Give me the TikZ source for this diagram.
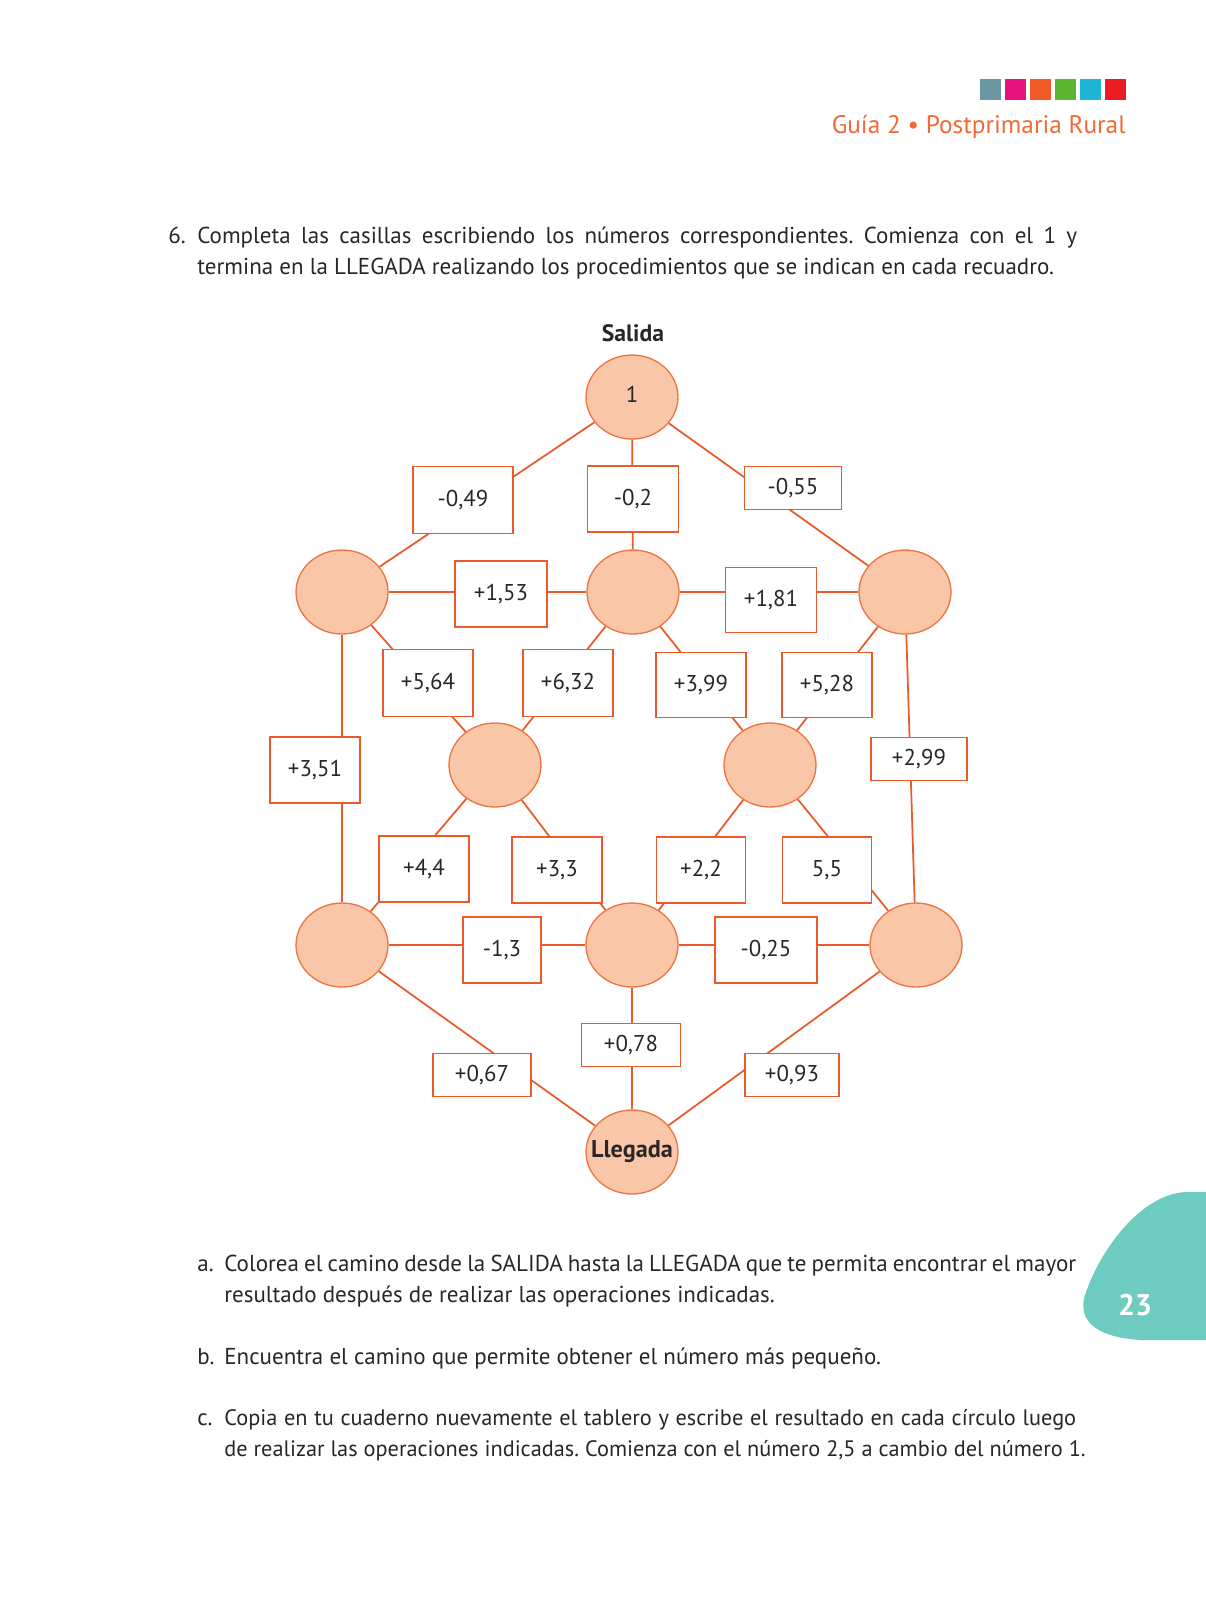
\documentclass[tikz,border=0pt]{standalone}
\usepackage{fontspec}
\setmainfont{PT Sans}
\usetikzlibrary{shapes.geometric}
\definecolor{naranja}{HTML}{EA5A2A}
\definecolor{borde}{HTML}{EE7442}
\definecolor{durazno}{HTML}{F9C6A7}
\definecolor{tinta}{HTML}{2A2627}
\definecolor{titulo}{HTML}{F06A35}
\definecolor{turquesa}{HTML}{6ECBC0}
\definecolor{cuadro1}{HTML}{6B97A5}
\definecolor{cuadro2}{HTML}{E5137B}
\definecolor{cuadro3}{HTML}{F15A29}
\definecolor{cuadro4}{HTML}{5DB531}
\definecolor{cuadro5}{HTML}{1FB5D5}
\definecolor{cuadro6}{HTML}{EC1C24}
\frenchspacing
\begin{document}
\begin{tikzpicture}[x=0.02cm,y=-0.02cm,
  circulo/.style={ellipse,draw=borde,fill=durazno,line width=0.75pt,minimum width=1.84cm,minimum height=1.68cm,inner sep=0pt,text=tinta,font=\fontsize{13}{15}\selectfont},
  casilla/.style={rectangle,draw=naranja,fill=white,line width=1.1pt,minimum height=1.32cm,inner sep=0pt,text=tinta,font=\fontsize{13}{15}\selectfont},
  baja/.style={minimum height=0.86cm},
  camino/.style={draw=naranja,line width=1pt},
  texto/.style={anchor=base west,inner sep=0pt,text=tinta,font=\fontsize{13.1}{15}\selectfont},
  textoc/.style={texto,font=\fontsize{12.7}{15}\selectfont}]
  \useasboundingbox (0,0) rectangle (1206,1600);
  \fill[white] (0,0) rectangle (1206,1600);
  \fill[cuadro1] (980,79) rectangle (1001,100);
  \fill[cuadro2] (1005,79) rectangle (1026,100);
  \fill[cuadro3] (1030,79) rectangle (1051,100);
  \fill[cuadro4] (1055,79) rectangle (1076,100);
  \fill[cuadro5] (1080,79) rectangle (1101,100);
  \fill[cuadro6] (1105,79) rectangle (1126,100);
  \node[anchor=base east,inner sep=0pt,text=titulo,font=\fontsize{14.4}{17}\selectfont] (guia) at (1126,133) {Guía 2 • Postprimaria Rural};
  \node[texto] (n6) at (168,243) {6.};
  \node[texto] (p1) at (197,243) {\makebox[17.6cm][s]{Completa las casillas escribiendo los números correspondientes. Comienza con el 1 y}};
  \node[texto] (p2) at (197,274) {termina en la LLEGADA realizando los procedimientos que se indican en cada recuadro.};
  \node[text=tinta,font=\bfseries\fontsize{13.5}{16}\selectfont] (salida) at (633,333) {Salida};
  \node[circulo] (c1) at (632,397) {\raisebox{3pt}{1}};
  \node[circulo] (cl) at (342,592) {};
  \node[circulo] (cm) at (633,592) {};
  \node[circulo] (cr) at (905,592) {};
  \node[circulo] (il) at (495,765) {};
  \node[circulo] (ir) at (770,765) {};
  \node[circulo] (dl) at (342,945) {};
  \node[circulo] (dm) at (632,945) {};
  \node[circulo] (dr) at (916,945) {};
  \node[circulo,font=\bfseries\fontsize{13.8}{16}\selectfont] (llegada) at (632,1152) {\makebox[0pt]{Llegada}};
  \foreach \a/\b in {c1/cl,c1/cm,c1/cr,cl/cm,cm/cr,cl/dl,cl/il,cm/il,cm/ir,cr/ir,cr/dr,il/dl,il/dm,ir/dm,ir/dr,dl/dm,dm/dr,dl/llegada,dm/llegada,dr/llegada}
    \draw[camino] (\a) -- (\b);
  \node[casilla,minimum width=2cm,minimum height=1.34cm] (r049) at (463,500) {-0,49};
  \node[casilla,minimum width=1.82cm] (r02) at (633,499) {-0,2};
  \node[casilla,baja,minimum width=1.94cm] (r055) at (793,488) {-0,55};
  \node[casilla,minimum width=1.84cm] (r153) at (501,594) {+1,53};
  \node[casilla,minimum width=1.82cm,minimum height=1.3cm] (r181) at (771,600) {+1,81};
  \node[casilla,minimum width=1.8cm,minimum height=1.34cm] (r564) at (428,683) {+5,64};
  \node[casilla,minimum width=1.8cm,minimum height=1.34cm] (r632) at (568,683) {+6,32};
  \node[casilla,minimum width=1.8cm,minimum height=1.3cm] (r399) at (701,685) {+3,99};
  \node[casilla,minimum width=1.8cm,minimum height=1.3cm] (r528) at (827,685) {+5,28};
  \node[casilla,minimum width=1.8cm] (r351) at (315,770) {+3,51};
  \node[casilla,baja,minimum width=1.92cm] (r299) at (919,759) {+2,99};
  \node[casilla,minimum width=1.8cm] (r44) at (424,869) {+4,4};
  \node[casilla,minimum width=1.8cm] (r33) at (557,870) {+3,3};
  \node[casilla,minimum width=1.78cm] (r22) at (701,870) {+2,2};
  \node[casilla,minimum width=1.78cm] (r55) at (827,870) {5,5};
  \node[casilla,minimum width=1.56cm] (r13) at (502,950) {-1,3};
  \node[casilla,minimum width=2.04cm] (r025) at (766,950) {-0,25};
  \node[casilla,baja,minimum width=1.98cm] (r078) at (631,1045) {+0,78};
  \node[casilla,baja,minimum width=1.96cm] (r067) at (482,1075) {+0,67};
  \node[casilla,baja,minimum width=1.88cm] (r093) at (792,1075) {+0,93};
  \node[texto] (na) at (197,1271) {a.};
  \node[texto] (a1) at (224,1271) {\makebox[17.04cm][s]{Colorea el camino desde la SALIDA hasta la LLEGADA que te permita encontrar el mayor}};
  \node[texto] (a2) at (224,1302) {resultado después de realizar las operaciones indicadas.};
  \node[texto] (nb) at (197,1364) {b.};
  \node[texto] (b1) at (224,1364) {Encuentra el camino que permite obtener el número más pequeño.};
  \node[texto] (nc) at (197,1425) {c.};
  \node[textoc] (c1t) at (224,1425) {\makebox[17.04cm][s]{Copia en tu cuaderno nuevamente el tablero y escribe el resultado en cada círculo luego}};
  \node[textoc] (c2t) at (224,1456) {de realizar las operaciones indicadas. Comienza con el número 2,5 a cambio del número 1.};
  \fill[turquesa] (1206,1192) -- (1185,1192) .. controls (1140,1195) and (1100,1250) .. (1085,1295) .. controls (1075,1328) and (1110,1342) .. (1160,1340) -- (1206,1340) -- cycle;
  \node[text=white,font=\bfseries\fontsize{17}{20}\selectfont] (pagina) at (1135,1305) {23};
\end{tikzpicture}
\end{document}
